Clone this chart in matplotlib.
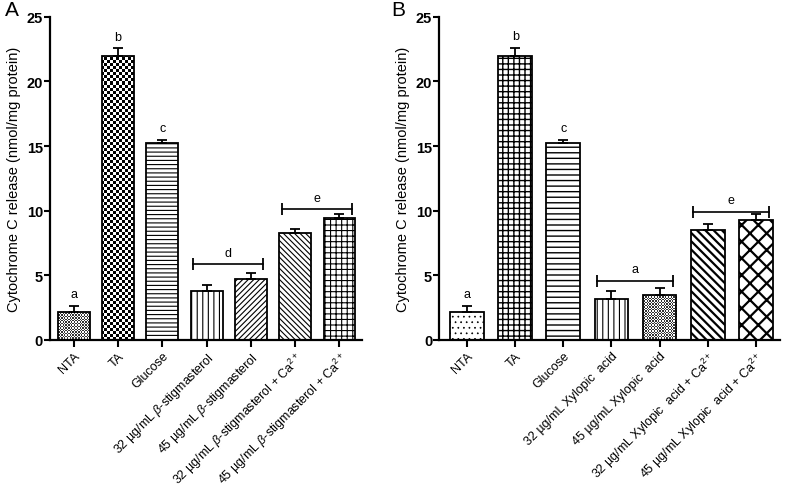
import numpy as np
import matplotlib
matplotlib.use("Agg")
import matplotlib.pyplot as plt
from matplotlib.colors import ListedColormap

plt.rcParams['font.family'] = ['Liberation Sans', 'DejaVu Sans']
plt.rcParams['mathtext.fontset'] = 'custom'
plt.rcParams['mathtext.rm'] = 'Liberation Sans'
plt.rcParams['mathtext.it'] = 'Liberation Sans:italic'
plt.rcParams['mathtext.bf'] = 'Liberation Sans:bold'

# panel A data
labels_a = ['NTA', 'TA', 'Glucose',
            '32 µg/mL $\\beta$-stigmasterol',
            '45 µg/mL $\\beta$-stigmasterol',
            '32 µg/mL $\\beta$-stigmasterol + Ca$^{2+}$',
            '45 µg/mL $\\beta$-stigmasterol + Ca$^{2+}$']
means_a = [2.2, 22.0, 15.2, 3.8, 4.75, 8.3, 9.45]
err_a = [0.45, 0.55, 0.25, 0.45, 0.4, 0.25, 0.3]
letters_a = ['a', 'b', 'c', '', '', '', '']
brackets_a = [(3, 4, 5.85, 'd'), (5, 6, 10.1, 'e')]

# panel B data
labels_b = ['NTA', 'TA', 'Glucose',
            '32 µg/mL Xylopic  acid',
            '45 µg/mL Xylopic  acid',
            '32 µg/mL Xylopic  acid + Ca$^{2+}$',
            '45 µg/mL Xylopic  acid + Ca$^{2+}$']
means_b = [2.2, 22.0, 15.2, 3.15, 3.45, 8.5, 9.25]
err_b = [0.45, 0.6, 0.25, 0.65, 0.6, 0.5, 0.5]
letters_b = ['a', 'b', 'c', '', '', '', '']
brackets_b = [(3, 4, 4.55, 'a'), (5, 6, 9.9, 'e')]

# fill styles: ('hatch', pattern, linewidth) or ('checker', cell_px, dark colour)
styles_a = [('checker', 1.4, '#333333'), ('checker', 3.0, 'black'), ('hatch', '----', 0.8),
            ('hatch', '|||', 0.8), ('hatch', '//////', 0.8), ('hatch', '\\\\\\\\\\\\', 0.8),
            ('hatch', '+++', 0.8)]
styles_b = [('hatch', '...', 0.5), ('hatch', '+++', 1.0), ('hatch', '---', 1.0),
            ('hatch', '|||', 0.8), ('checker', 1.4, '#333333'), ('hatch', '\\\\\\\\', 1.6),
            ('hatch', 'xx', 1.6)]


def checker_fill(ax, bar, cell_px, dark):
    bbox = ax.get_window_extent()
    x0, x1 = ax.get_xlim()
    y0, y1 = ax.get_ylim()
    nx = int(bbox.width / cell_px) + 1
    ny = int(bbox.height / cell_px) + 1
    yy, xx = np.indices((ny, nx))
    img = (xx + yy) % 2
    im = ax.imshow(img, cmap=ListedColormap(['white', dark]), origin='lower',
                   extent=(x0, x0 + nx * cell_px * (x1 - x0) / bbox.width,
                           y0, y0 + ny * cell_px * (y1 - y0) / bbox.height),
                   aspect='auto', interpolation='nearest', zorder=1.5)
    im.set_clip_path(bar)
    ax.set_xlim(x0, x1)
    ax.set_ylim(y0, y1)


def panel(ax, labels, means, errs, letters, brackets, styles, width, xleft):
    x = np.arange(len(labels))
    ax.set_xlim(xleft, len(labels) - 0.5)
    ax.set_ylim(0, 25)
    bars = ax.bar(x, means, width=width, facecolor='none', edgecolor='black',
                  linewidth=1.3, zorder=3)
    for b, st in zip(bars, styles):
        if st[0] == 'hatch':
            b.set_hatch(st[1])
            if hasattr(b, 'set_hatch_linewidth'):
                b.set_hatch_linewidth(st[2])
        else:
            checker_fill(ax, b, st[1], st[2])
    ax.errorbar(x, means, yerr=[np.zeros(len(errs)), errs], fmt='none',
                ecolor='black', elinewidth=1.3, capsize=3.5, capthick=1.3, zorder=4)
    for xi, m, e, t in zip(x, means, errs, letters):
        if t:
            ax.text(xi, m + e + 0.45, t, ha='center', va='bottom', fontsize=9)
    for i0, i1, y, t in brackets:
        lo = i0 - 0.3
        hi = i1 + 0.28
        ax.plot([lo, hi], [y, y], color='black', lw=1.2, marker='|',
                markersize=9, markeredgewidth=1.3, zorder=4)
        ax.text((lo + hi) / 2, y + 0.45, t, ha='center', va='bottom', fontsize=9)

    ax.spines['top'].set_visible(False)
    ax.spines['right'].set_visible(False)
    ax.spines['left'].set_linewidth(1.6)
    ax.spines['bottom'].set_linewidth(1.6)
    ax.set_yticks(np.arange(0, 26, 5))
    ax.tick_params(axis='y', length=4, width=1.5, pad=1, labelsize=10.5)
    for lab in ax.get_yticklabels():
        lab.set_fontweight('bold')
    ax.set_xticks(x)
    ax.set_xticklabels(labels, rotation=45, ha='right', rotation_mode='anchor', fontsize=9)
    ax.tick_params(axis='x', length=5, width=1.5, pad=2)
    ax.set_ylabel('Cytochrome C release (nmol/mg protein)', fontsize=10.5, labelpad=4)


fig = plt.figure(figsize=(7.87, 4.89), dpi=100)
ax_a = fig.add_axes([0.0635, 0.3027, 0.396, 0.661])
ax_b = fig.add_axes([0.558, 0.3027, 0.433, 0.661])

panel(ax_a, labels_a, means_a, err_a, letters_a, brackets_a, styles_a, 0.72, -0.54)
panel(ax_b, labels_b, means_b, err_b, letters_b, brackets_b, styles_b, 0.70, -0.58)

fig.text(0.006, 0.998, 'A', fontsize=15, va='top', ha='left')
fig.text(0.497, 0.998, 'B', fontsize=15, va='top', ha='left')

fig.savefig('out.png', dpi=100)
